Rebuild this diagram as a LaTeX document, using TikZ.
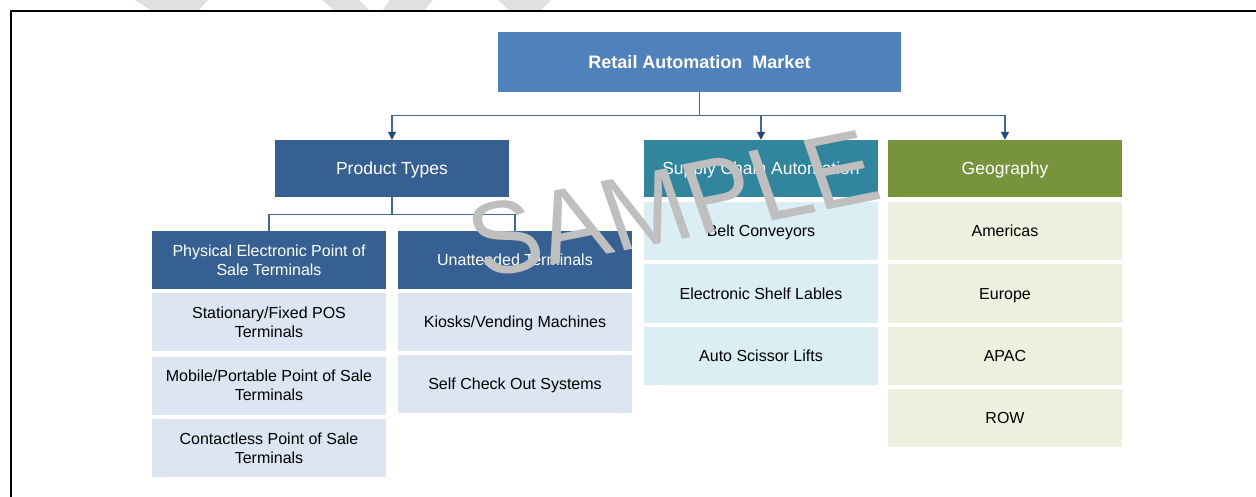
\documentclass[tikz,border=0pt]{standalone}
\usepackage{fontspec}
\setmainfont{Liberation Sans}
\usetikzlibrary{arrows.meta}
\definecolor{titleblue}{HTML}{4F81BD}
\definecolor{darkblue}{HTML}{376092}
\definecolor{teal}{HTML}{31859C}
\definecolor{olive}{HTML}{77933C}
\definecolor{lightblue}{HTML}{DCE6F2}
\definecolor{lightteal}{HTML}{DAEEF3}
\definecolor{lightolive}{HTML}{EBF1DE}
\definecolor{linecol}{HTML}{41689A}
\definecolor{tipcol}{HTML}{22487E}
\definecolor{wmark}{HTML}{BFBFBF}
\definecolor{wmarklight}{HTML}{E0E0E0}
\tikzset{
  box/.style={rectangle, inner sep=0pt, minimum width=234pt, minimum height=58pt, align=center, text depth=0pt},
  hdr/.style={box, text=white, font=\fontsize{16}{19}\selectfont},
  lvlone/.style={box, minimum height=57pt, text=white, font=\fontsize{17.5}{21}\selectfont},
  itemA/.style={box, fill=lightblue, font=\fontsize{16}{19}\selectfont},
  itemB/.style={box, fill=lightteal, font=\fontsize{16}{19}\selectfont},
  itemC/.style={box, fill=lightolive, font=\fontsize{16}{19}\selectfont},
  conn/.style={draw=linecol, line width=1.1pt},
  arr/.style={conn, -{Triangle[width=8pt,length=8pt,color=tipcol]}}
}
\begin{document}
\begin{tikzpicture}[x=1pt,y=-1pt]
\useasboundingbox (0,0) rectangle (1256,497);
% faint watermark fragments at top
\fill[wmarklight] (135,0) -- (208,0) -- (198,11) -- (152,11) -- cycle;
\fill[wmarklight] (322,0) -- (359,0) -- (370,11) -- (335,11) -- cycle;
\fill[wmarklight] (390,0) -- (433,0) -- (424,11) -- (382,11) -- cycle;
\fill[wmarklight] (498,0) -- (551,0) -- (540,11) -- (510,11) -- cycle;
% frame
\draw[line width=2pt] (11,500) -- (11,11) -- (1260,11);
% title
\node[box, minimum width=403pt, minimum height=60pt, fill=titleblue, text=white, font=\bfseries\fontsize{18}{21}\selectfont] (title) at (699.5,62) {Retail Automation\ \ Market};
% level one
\node[lvlone, fill=darkblue] (ptypes) at (392,168.5) {Product Types};
\node[lvlone, fill=teal] (supply) at (761,168.5) {Supply Chain Automation};
\node[lvlone, fill=olive] (geo) at (1005,168.5) {Geography};
% level two headers
\node[hdr, fill=darkblue] (phys) at (269,260) {Physical Electronic Point of\\Sale Terminals};
\node[hdr, fill=darkblue] (unatt) at (515,260) {Unattended Terminals};
% product items
\node[itemA] (stat) at (269,322) {Stationary/Fixed POS\\Terminals};
\node[itemA] (mob) at (269,385.5) {Mobile/Portable Point of Sale\\Terminals};
\node[itemA] (cont) at (269,448) {Contactless Point of Sale\\Terminals};
\node[itemA] (kiosk) at (515,322) {Kiosks/Vending Machines};
\node[itemA] (self) at (515,384) {Self Check Out Systems};
% supply items
\node[itemB] (belt) at (761,231) {Belt Conveyors};
\node[itemB] (esl) at (761,293.5) {Electronic Shelf Lables};
\node[itemB] (lift) at (761,355.5) {Auto Scissor Lifts};
% geography items
\node[itemC] (amer) at (1005,231) {Americas};
\node[itemC] (eur) at (1005,293.5) {Europe};
\node[itemC] (apac) at (1005,355.5) {APAC};
\node[itemC] (row) at (1005,417.5) {ROW};
% connectors
\draw[conn] (title.south) -- ++(0,23) coordinate (tj);
\draw[arr] (tj) -| (ptypes.north);
\draw[arr] (tj) -| (supply.north);
\draw[arr] (tj) -| (geo.north);
\draw[conn] (ptypes.south) -- ++(0,17) coordinate (pj);
\draw[conn] (pj) -| (phys.north);
\draw[conn] (pj) -| (unatt.north);
% watermark
\begin{scope}[shift={(673,204)}]
\node[text=wmark, font=\fontsize{106}{106}\selectfont, cm={0.933,0.186,-0.326,0.946,(0,0)}, inner sep=0pt] (wm) at (0,0) {SAMPLE};
\end{scope}
\end{tikzpicture}
\end{document}
